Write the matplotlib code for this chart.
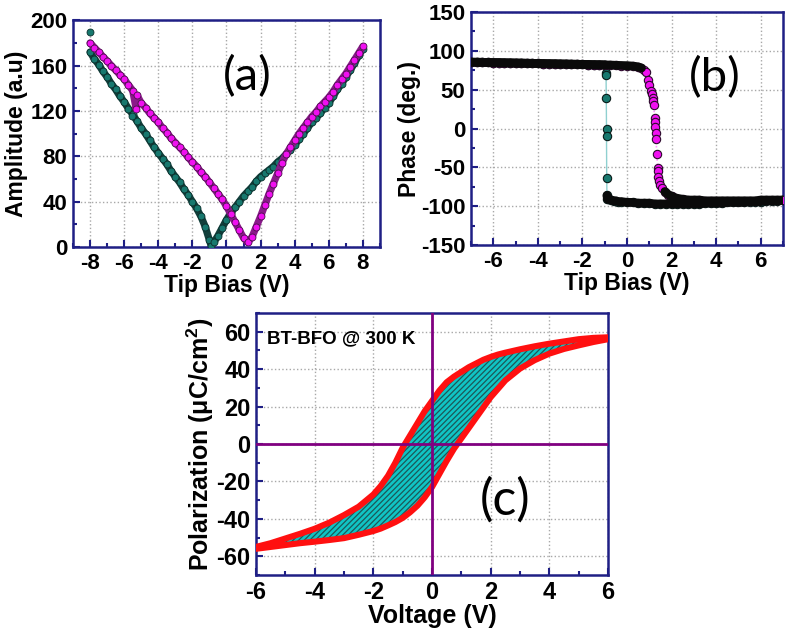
import matplotlib
matplotlib.use("Agg")
import matplotlib.pyplot as plt
from matplotlib.ticker import MultipleLocator
import numpy as np

plt.rcParams['font.family'] = ['Liberation Sans', 'DejaVu Sans']
plt.rcParams['mathtext.fontset'] = 'custom'
plt.rcParams['mathtext.rm'] = 'Liberation Sans'
plt.rcParams['mathtext.bf'] = 'Liberation Sans:bold'
plt.rcParams['hatch.linewidth'] = 0.9
plt.rcParams['axes.unicode_minus'] = False

# ---------------- data (a) amplitude ----------------
amp_teal_v = [-8.0, -7.75, -7.5, -7.25, -7.0, -6.75, -6.5, -6.25, -6.0, -5.75, -5.5, -5.25,
              -5.0, -4.75, -4.5, -4.25, -4.0, -3.75, -3.5, -3.25, -3.0, -2.75, -2.5, -2.25,
              -2.0, -1.75, -1.5, -1.25, -1.0, -0.9, -0.75, -0.5, -0.25, 0.0, 0.25, 0.5, 0.75,
              1.0, 1.25, 1.5, 1.75, 2.0, 2.25, 2.5, 2.75, 3.0, 3.25, 3.5, 3.75, 4.0, 4.25,
              4.5, 4.75, 5.0, 5.25, 5.5, 5.75, 6.0, 6.25, 6.5, 6.75, 7.0, 7.25, 7.5, 7.75, 8.0]
amp_teal = [172, 166, 161, 155, 150, 144, 139, 133, 128, 122, 117, 111,
            105, 100, 94, 88, 83, 78, 73, 67, 62, 57, 51, 46,
            40, 34, 27, 18, 6, 1, 4, 10, 17, 24, 30, 35, 40,
            45, 49, 53, 58, 62, 65, 68, 71, 75, 78, 82, 86, 90, 95,
            100, 105, 110, 114, 118, 123, 127, 133, 139, 144, 150, 156, 162, 169, 175]
amp_teal_extra_v = [-8.0, -5.55]
amp_teal_extra = [190, 116]

amp_mag_v = [-8.0, -7.75, -7.5, -7.25, -7.0, -6.75, -6.5, -6.25, -6.0, -5.75, -5.5, -5.3,
             -5.25, -5.0, -4.75, -4.5, -4.25, -4.0, -3.75, -3.5, -3.25, -3.0, -2.75, -2.5,
             -2.25, -2.0, -1.75, -1.5, -1.25, -1.0, -0.75, -0.5, -0.25, 0.0, 0.25, 0.5,
             0.75, 1.0, 1.25, 1.5, 1.75, 2.0, 2.25, 2.5, 2.75, 3.0, 3.25, 3.5, 3.75, 4.0,
             4.25, 4.5, 4.75, 5.0, 5.25, 5.5, 5.75, 6.0, 6.25, 6.5, 6.75, 7.0, 7.25, 7.5, 7.75, 8.0]
amp_mag = [180, 176, 172, 168, 164, 160, 156, 152, 148, 143, 138, 122,
           134, 127, 123, 118, 114, 110, 105, 101, 96, 92, 88, 84,
           79, 75, 71, 66, 62, 57, 52, 47, 42, 36, 29, 22,
           15, 8, 4, 9, 18, 27, 37, 47, 56, 65, 74, 82, 88, 94,
           100, 105, 110, 115, 119, 124, 128, 132, 137, 143, 148, 153, 159, 165, 171, 177]

# ---------------- data (b) phase ----------------
ph_teal_v = [-7.0, -6.75, -6.5, -6.25, -6.0, -5.75, -5.5, -5.25, -5.0, -4.75, -4.5, -4.25,
             -4.0, -3.75, -3.5, -3.25, -3.0, -2.75, -2.5, -2.25, -2.0, -1.75, -1.5, -1.25,
             -1.0, -0.95, -0.94, -0.93, -0.92, -0.92, -0.91, -0.9, -0.88, -0.85, -0.8,
             -0.7, -0.6, -0.5, -0.4, -0.25, 0.0, 0.25, 0.5, 0.75, 1.0, 1.25, 1.5, 1.75,
             2.0, 2.25, 2.5, 2.75, 3.0, 3.25, 3.5, 3.75, 4.0, 4.25, 4.5, 4.75, 5.0, 5.25,
             5.5, 5.75, 6.0, 6.25, 6.5, 6.75, 7.0]
ph_teal = [85.5, 85.4, 85.3, 85.1, 85.0, 84.9, 84.7, 84.6, 84.4, 84.3, 84.1, 84.0,
           83.8, 83.7, 83.5, 83.4, 83.2, 83.1, 82.9, 82.8, 82.6, 82.5, 82.3, 82.2,
           82.0, 72, 69, 39, 0, -10, -64, -86, -90, -91, -91,
           -92, -93, -93, -94, -94, -95, -95, -96, -96, -96, -97, -97, -97,
           -97, -97, -97, -97, -97, -97, -96, -96, -96, -96, -95, -95, -95, -95,
           -94, -94, -94, -93, -93, -93, -92]

ph_mag_v = [-7.0, -6.75, -6.5, -6.25, -6.0, -5.75, -5.5, -5.25, -5.0, -4.75, -4.5, -4.25,
            -4.0, -3.75, -3.5, -3.25, -3.0, -2.75, -2.5, -2.25, -2.0, -1.75, -1.5, -1.25,
            -1.0, -0.75, -0.5, -0.25, 0.0, 0.25, 0.5, 0.65, 0.75, 0.85, 0.94, 1.0, 1.08,
            1.12, 1.15, 1.18, 1.2, 1.24, 1.25, 1.26, 1.28, 1.3, 1.34, 1.37, 1.38, 1.4, 1.45,
            1.5, 1.58, 1.7, 1.85, 2.0, 2.15, 2.3, 2.5, 2.75, 3.0, 3.25, 3.5, 3.75, 4.0,
            4.25, 4.5, 4.75, 5.0, 5.25, 5.5, 5.75, 6.0, 6.25, 6.5, 6.75, 7.0]
ph_mag = [85.5, 85.4, 85.3, 85.1, 85.0, 84.9, 84.7, 84.6, 84.4, 84.3, 84.1, 84.0,
          83.8, 83.7, 83.5, 83.4, 83.2, 83.1, 82.9, 82.8, 82.6, 82.5, 82.3, 82.2,
          82.0, 81.8, 81.5, 81.2, 81.0, 80.5, 79.5, 78, 76, 73, 63, 56, 48,
          44, 40, 35, 30, 13, 9, 2, -6, -13, -33, -51, -55, -62, -67,
          -72, -76, -81, -85, -87, -89, -90, -91, -92, -92, -92, -93, -93, -93,
          -93, -93, -93, -93, -93, -93, -93, -92, -92, -92, -92, -92]

# ---------------- data (c) P-E loop ----------------
pe_v = [-6.0, -5.5, -5.0, -4.5, -4.0, -3.5, -3.0, -2.5, -2.0, -1.75, -1.5, -1.25, -1.0,
        -0.75, -0.5, -0.25, 0.0, 0.25, 0.5, 0.75, 1.0, 1.25, 1.5, 1.75, 2.0, 2.25, 2.5,
        3.0, 3.5, 4.0, 4.5, 5.0, 5.5, 6.0]
pe_upper = [-55, -53, -50.5, -48, -45.3, -42, -38, -33.5, -27, -22.5, -17, -10, -2,
            4.5, 11, 17.5, 23, 28.5, 33, 36, 38.5, 41, 43, 45, 46.5, 47.8, 48.8,
            50.6, 52.2, 53.6, 54.8, 56, 56.7, 57]
pe_lower = [-56, -55, -54, -53, -52.2, -51.3, -50.3, -48.5, -46.5, -45.2, -43.5, -41.7, -39.5,
            -36.5, -33, -28.5, -23, -16, -9, -2.5, 3, 8.5, 14, 19.5, 25, 29.5, 34,
            40.3, 44.8, 48.3, 50.8, 52.7, 54.5, 56]

NAVY = '#1f1f85'
TEAL = '#17786e'
MAG = '#f010f0'
GRID = dict(color='#a8a8a8', linestyle=':', linewidth=1.0)


def style(ax, tick_fs):
    for s in ax.spines.values():
        s.set_color(NAVY)
        s.set_linewidth(1.8)
    ax.tick_params(which='both', direction='in', color=NAVY, top=False, right=False,
                   labelsize=tick_fs, width=1.5)
    ax.tick_params(which='major', length=5, pad=4)
    ax.tick_params(which='minor', length=3)
    for lab in ax.get_xticklabels() + ax.get_yticklabels():
        lab.set_fontweight('bold')
    ax.grid(True, which='major', **GRID)
    ax.set_axisbelow(True)


fig = plt.figure(figsize=(7.87, 6.35), dpi=100)

# ---- (a)
axa = fig.add_axes([0.0928, 0.611, 0.390, 0.357])
axa.plot(amp_teal_v, amp_teal, '-', color='#123f3b', lw=5.2, solid_capstyle='round', zorder=2)
axa.plot(amp_teal_v, amp_teal, 'o', ms=5, mfc=TEAL, mec='#0b2e2b', mew=0.6, zorder=3)
axa.plot(amp_teal_extra_v, amp_teal_extra, 'o', ms=5, mfc=TEAL, mec='#0b2e2b', mew=0.6, zorder=3)
axa.plot(amp_mag_v, amp_mag, '-', color='#8a1a8a', lw=5.2, solid_capstyle='round', zorder=4)
axa.plot(amp_mag_v, amp_mag, 'o', ms=5, mfc=MAG, mec='#4a104a', mew=0.6, zorder=5)
axa.set_xlim(-9, 9)
axa.set_ylim(0, 200)
axa.xaxis.set_major_locator(MultipleLocator(2))
axa.xaxis.set_minor_locator(MultipleLocator(1))
axa.yaxis.set_major_locator(MultipleLocator(40))
axa.yaxis.set_minor_locator(MultipleLocator(20))
style(axa, 16)
axa.set_xlabel('Tip Bias (V)', fontsize=16.5, fontweight='bold', labelpad=0)
axa.set_ylabel('Amplitude (a.u)', fontsize=16.5, fontweight='bold', labelpad=2)
axa.text(1.2, 150, '(a)', fontsize=34, family='Lato', ha='center', va='center')

# ---- (b)
axb = fig.add_axes([0.5985, 0.614, 0.3964, 0.367])
tv = np.array(ph_teal_v)
tp = np.array(ph_teal, dtype=float)
mv = np.array(ph_mag_v)
mp = np.array(ph_mag, dtype=float)
axb.plot(tv, tp, '-', color='#8fd0d0', lw=1.0, zorder=2)
axb.plot(mv, mp, ':', color='#ff9aff', lw=1.2, zorder=2)
axb.plot(tv, tp, 'o', ms=6, mfc=TEAL, mec='#0a1a18', mew=0.8, zorder=3)
axb.plot(mv, mp, 'o', ms=6, mfc=MAG, mec='#2a0a2a', mew=0.8, zorder=4)
# dense overlapping markers in the saturated parts appear as a black band
axb.plot(tv, np.where(np.abs(tp) >= 81, tp, np.nan), '-', color='#0a0a0a', lw=6.3,
         solid_capstyle='round', zorder=5)
axb.plot(mv, np.where(np.abs(mp) >= 78, mp, np.nan), '-', color='#0a0a0a', lw=6.3,
         solid_capstyle='round', zorder=5)
axb.set_xlim(-7, 7)
axb.set_ylim(-150, 150)
axb.xaxis.set_major_locator(MultipleLocator(2))
axb.xaxis.set_minor_locator(MultipleLocator(1))
axb.yaxis.set_major_locator(MultipleLocator(50))
axb.yaxis.set_minor_locator(MultipleLocator(25))
style(axb, 16)
axb.set_xlabel('Tip Bias (V)', fontsize=16.5, fontweight='bold', labelpad=0)
axb.set_ylabel('Phase (deg.)', fontsize=16.5, fontweight='bold', labelpad=0)
axb.text(3.95, 65, '(b)', fontsize=34, family='Lato', ha='center', va='center')

# ---- (c)
axc = fig.add_axes([0.3253, 0.0945, 0.4473, 0.4126])
axc.fill_between(pe_v, pe_lower, pe_upper, facecolor='#10c4c4', edgecolor='#1c5858',
                 hatch='//////', linewidth=0, zorder=2)
loop_v = pe_v[::-1] + pe_v
loop_p = pe_upper[::-1] + pe_lower
axc.plot(loop_v, loop_p, '-', color='#ff1010', lw=4.4, solid_joinstyle='round',
         solid_capstyle='round', zorder=3)
axc.axhline(0, color='#800080', lw=2, zorder=4)
axc.axvline(0, color='#800080', lw=2, zorder=4)
axc.set_xlim(-6, 6)
axc.set_ylim(-70, 70)
axc.xaxis.set_major_locator(MultipleLocator(2))
axc.xaxis.set_minor_locator(MultipleLocator(1))
axc.yaxis.set_major_locator(MultipleLocator(20))
axc.yaxis.set_minor_locator(MultipleLocator(10))
style(axc, 17)
axc.set_xlabel('Voltage (V)', fontsize=18, fontweight='bold', labelpad=0)
axc.set_ylabel('Polarization (μC/cm$^\\mathbf{2}$)', fontsize=18, fontweight='bold', labelpad=0)
axc.text(-5.62, 56, 'BT-BFO @ 300 K', fontsize=13.5, fontweight='bold', ha='left', va='center')
axc.text(2.49, -30, '(c)', fontsize=36, family='Lato', ha='center', va='center', zorder=5)

fig.savefig('out.png', dpi=100)
